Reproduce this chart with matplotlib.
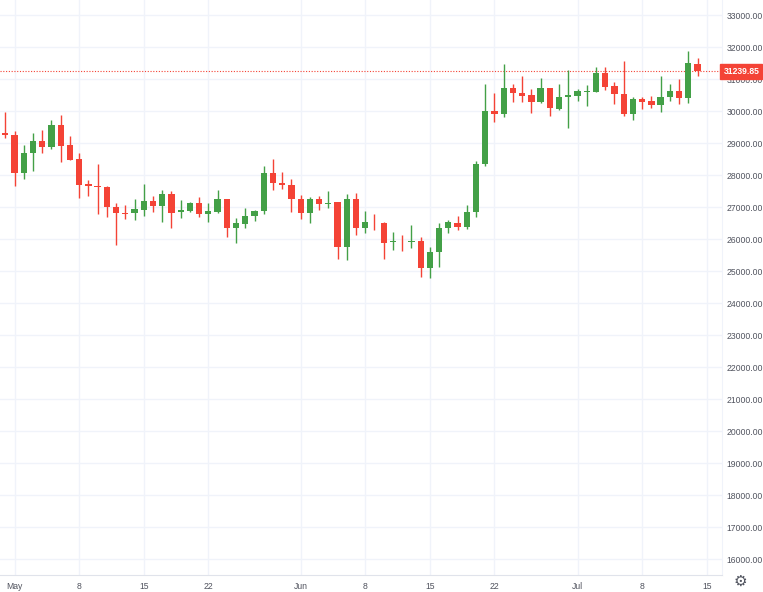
import matplotlib
matplotlib.use("Agg")
import matplotlib.pyplot as plt
import numpy as np

opens = [29300,29250,28073,28677,29063,28865,29563,28938,28500,27708,27646,27635,26990,26802,26802,26917,27188,27042,27417,26833,
         26885,27115,26771,26854,27240,26333,26479,26708,26875,28073,27740,27698,27240,26823,27250,27083,27146,25750,27250,26354,
         26500,26510,25896,25938,25917,25938,25104,25583,26333,26510,26385,26854,28344,30000,29906,30729,30573,30500,30271,30708,
         30063,30448,30479,30604,30604,31177,30781,30521,29896,30365,30313,30188,30427,30635,30396,31469]
closes = [29250,28073,28688,29063,28865,29563,28917,28479,27698,27646,27625,26990,26802,26790,26927,27188,27042,27417,26823,26906,
          27115,26771,26865,27240,26333,26490,26719,26875,28073,27740,27698,27240,26823,27250,27083,27135,25750,27250,26354,26531,
          26490,25865,25938,25927,25938,25104,25594,26333,26531,26365,26854,28344,30000,29906,30729,30552,30479,30271,30708,30083,
          30448,30500,30625,30635,31177,30760,30521,29896,30365,30292,30188,30448,30635,30396,31490,31239.85]
highs = [29978,29375,28938,29302,29417,29719,29886,29219,28688,27844,28344,27667,27115,27063,27240,27708,27333,27542,27500,27219,
         27167,27302,27115,27531,27240,26656,26958,26906,28292,28490,28094,27865,27375,27323,27354,27510,27146,27406,27427,26875,
         26781,26542,26208,26125,26438,26073,25740,26510,26594,26719,27063,28438,30833,30552,31469,30833,31094,30677,31042,30708,
         30844,31281,30688,30813,31385,31365,30896,31563,30448,30427,30469,31094,30844,31000,31875,31667]
lows = [29147,27667,27875,28136,28677,28802,28396,28458,27271,27354,26771,26698,25823,26615,26594,26729,26854,26542,26354,26646,
        26854,26698,26542,26802,26073,25865,26333,26573,26771,27531,27552,26844,26615,26490,26906,26958,25385,25344,26115,26198,
        26281,25375,25656,25635,25708,24823,24771,25135,26177,26281,26302,26677,28281,29667,29802,30271,30292,29948,30240,29854,
        30042,29458,30323,30167,30583,30656,30208,29854,29719,30063,30083,29979,30313,30208,30260,31104]
# day 0 = Apr 30
xtick_days = [1, 8, 15, 22, 32, 39, 46, 53, 62, 69, 76]
xtick_labels = ["May", "8", "15", "22", "Jun", "8", "15", "22", "Jul", "8", "15"]
ytick_vals = list(range(16000, 33001, 1000))
last_price = 31239.85

plt.rcParams["font.family"] = ["Liberation Sans", "DejaVu Sans"]

GREEN = "#43a047"
RED = "#f44336"
GRID = "#f0f3fa"
TXT = "#50535e"

fig = plt.figure(figsize=(7.63, 5.92), dpi=100)
ax = fig.add_axes([0, 17/592, 722/763, 575/592])
ax.set_xlim(-0.574, 77.65)
ax.set_ylim(15500, 33469)

for v in ytick_vals:
    ax.axhline(v, color=GRID, lw=1, zorder=0)
for d in xtick_days:
    ax.axvline(d, color=GRID, lw=1, zorder=0)

w = 0.68
for i, (o, c, h, l) in enumerate(zip(opens, closes, highs, lows)):
    col = GREEN if c >= o else RED
    ax.plot([i, i], [l, h], color=col, lw=1, zorder=2, solid_capstyle="butt")
    lo, hi = min(o, c), max(o, c)
    ax.add_patch(plt.Rectangle((i - w/2, lo), w, max(hi - lo, 25), color=col, zorder=3, lw=0))

ax.axhline(last_price, color=RED, lw=0.8, ls=(0, (1, 1.5)), zorder=1)

ax.yaxis.tick_right()
ax.set_yticks(ytick_vals)
ax.set_yticklabels([f"{v:.2f}" for v in ytick_vals])
ax.set_xticks(xtick_days)
ax.set_xticklabels(xtick_labels)
ax.tick_params(axis="both", length=0, labelsize=6.2, colors=TXT)
ax.tick_params(axis="y", pad=3)
ax.tick_params(axis="x", pad=5)
for s in ["top", "left"]:
    ax.spines[s].set_visible(False)
ax.spines["right"].set_color("#f0f3fa")
ax.spines["bottom"].set_color("#e0e3eb")

ax.text(1.002, last_price, f"{last_price:.2f}", transform=ax.get_yaxis_transform(),
        ha="left", va="center", fontsize=6.2, color="white", fontweight="bold",
        bbox=dict(boxstyle="square,pad=0.35", fc=RED, ec=RED), zorder=10, clip_on=False)
fig.text(740/763, 1 - 581/592, "\u2699", ha="center", va="center", fontsize=11, color=TXT,
         family="DejaVu Sans")

fig.savefig("out.png", dpi=100)
